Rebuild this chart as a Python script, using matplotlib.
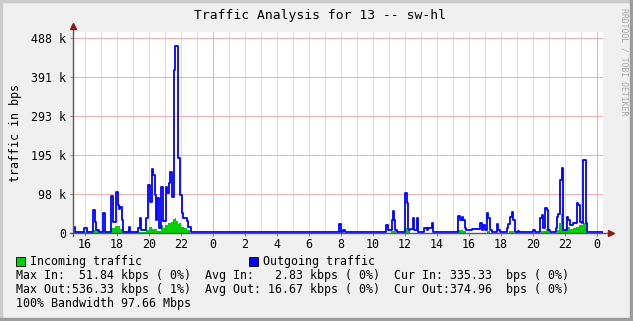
import matplotlib
matplotlib.use("Agg")
import matplotlib.pyplot as plt
from matplotlib.patches import Rectangle

# hours counted from midnight of the first day (24 = 0:00 next day, 48 = 0:00 day after)
out_t = [15.25, 15.36, 15.94, 16.1, 16.52, 16.6, 16.69, 16.875, 17.14, 17.225,
         17.64, 17.725, 17.94, 18.04, 18.125, 18.2, 18.31, 18.4, 18.75, 18.8,
         19.33, 19.44, 19.52, 19.81, 19.96, 20.06, 20.19, 20.27, 20.375, 20.44,
         20.52, 20.6, 20.725, 20.85, 21.06, 21.14, 21.23, 21.31, 21.44, 21.54,
         21.58, 21.625, 21.83, 21.94, 22.04, 22.14, 22.35, 22.45, 22.625,
         31.875, 31.98, 32.14, 32.25,
         34.84, 34.94, 35.17, 35.22, 35.31, 35.39, 35.48,
         36.0, 36.1, 36.2, 36.31, 36.48, 36.58, 36.73, 36.83, 37.19, 37.35,
         37.45, 37.67, 37.77,
         39.29, 39.44, 39.54, 39.64, 39.77, 39.81, 40.17, 40.69, 40.79, 40.89,
         41.0, 41.1, 41.2, 41.31, 41.42, 41.73, 41.83, 41.94,
         42.35, 42.46, 42.56, 42.67, 42.77, 42.875, 43.08, 43.15, 44.02, 44.1,
         44.44, 44.54, 44.64, 44.75, 44.85, 44.96, 45.06,
         45.44, 45.52, 45.58, 45.69, 45.79, 45.89, 46.1, 46.21, 46.31, 46.52,
         46.73, 46.83, 46.94, 47.04, 47.14, 47.31, 47.375]
out_v = [14, 3, 12, 2, 57, 28, 7, 3, 51, 3,
         93, 28, 103, 70, 60, 65, 32, 3, 14, 3,
         12, 38, 8, 38, 120, 78, 160, 145, 95, 32,
         87, 12, 116, 30, 116, 100, 125, 153, 91, 183,
         408, 469, 187, 95, 50, 38, 30, 16, 1.5,
         22, 2, 7, 1.5,
         20, 7, 32, 56, 32, 7, 1.5,
         99, 74, 7, 10, 38, 7, 37, 2, 13, 7,
         12, 24, 1.5,
         43, 32, 41, 32, 13, 7, 10, 24, 7, 20,
         7, 51, 38, 7, 1.5, 22, 7, 1.5,
         13, 22, 41, 53, 32, 1.5, 5, 1.5, 7, 1.5,
         37, 45, 13, 62, 57, 7, 1.5,
         13, 41, 47, 133, 162, 7, 41, 32, 20, 24,
         74, 70, 28, 24, 183, 24, 1.5]

in_t = [15.25, 16.45, 16.9, 17.6, 17.9, 18.2, 18.45, 19.8, 20.0, 20.2,
        20.5, 20.75, 20.9, 21.0, 21.2, 21.35, 21.5, 21.6, 21.7, 21.8,
        21.9, 22.0, 22.2, 22.4, 22.55,
        31.85, 32.0, 35.15, 35.45, 36.0, 36.15, 36.3,
        39.25, 39.6, 39.8, 41.1, 41.3, 42.5, 42.8,
        44.5, 44.8, 45.0, 45.5, 45.65, 45.75, 45.85, 45.95, 46.1, 46.3,
        46.5, 46.7, 46.9, 47.1, 47.3, 47.4]
in_v = [2, 7, 2, 12, 18, 10, 2, 7, 14, 10,
        5, 20, 12, 20, 25, 28, 35, 37, 30, 22,
        25, 15, 12, 8, 1.2,
        4, 1.2, 4, 1.2, 12, 5, 1.2,
        8, 5, 1.2, 5, 1.2, 6, 1.2,
        6, 10, 1.2, 8, 25, 47, 30, 10, 15, 10,
        12, 15, 20, 25, 10, 1.2]

t_end = 48.375
y_ticks = [0, 97.66, 195.31, 292.97, 390.63, 488.28]
y_labels = ["0", "98 k", "195 k", "293 k", "391 k", "488 k"]
x_ticks = list(range(16, 49, 2))
x_labels = [str(h % 24) for h in x_ticks]

title = "Traffic Analysis for 13 -- sw-hl"
legend_lines = [
    "Max In:  51.84 kbps ( 0%)  Avg In:   2.83 kbps ( 0%)  Cur In: 335.33  bps ( 0%)",
    "Max Out:536.33 kbps ( 1%)  Avg Out: 16.67 kbps ( 0%)  Cur Out:374.96  bps ( 0%)",
    "100% Bandwidth 97.66 Mbps",
]

W, H = 633, 321
bg = "#f0f0f0"
mono = "DejaVu Sans Mono"
fs = 8.4

fig = plt.figure(figsize=(W / 100, H / 100), dpi=100, facecolor=bg)

# 3d-ish frame like rrdtool
fig.patches.append(Rectangle((0, 1 - 2 / H), 1, 2 / H, transform=fig.transFigure, color="#cbcbcb"))
fig.patches.append(Rectangle((0, 0), 2 / W, 1, transform=fig.transFigure, color="#cbcbcb"))
fig.patches.append(Rectangle((0, 0), 1, 3 / H, transform=fig.transFigure, color="#9c9c9c"))
fig.patches.append(Rectangle((1 - 3 / W, 0), 3 / W, 1, transform=fig.transFigure, color="#9c9c9c"))

x0, x1, ytop, ybot = 73, 603, 32, 233
ax = fig.add_axes([x0 / W, 1 - ybot / H, (x1 - x0) / W, (ybot - ytop) / H])
ax.set_facecolor("white")
ax.set_xlim(15.25, t_end)
ax.set_ylim(0, (ybot - ytop) * 97.66 / 39)
for s in ax.spines.values():
    s.set_visible(False)

# grid
for h in range(16, 49):
    if h % 24 == 0:
        ax.axvline(h, color="#f4b0b0", lw=0.75, zorder=1)
    else:
        ax.axvline(h, color="#dedede", lw=0.75, zorder=0.5)
for yv in y_ticks[1:]:
    ax.axhline(yv, color="#f4b0b0", lw=0.75, zorder=1)

# data
ax.fill_between(in_t + [t_end], in_v + [in_v[-1]], step="post", color="#00cf00", lw=0, zorder=2)
ax.step(out_t + [t_end], out_v + [out_v[-1]], where="post", color="#0000ff", lw=1.3, zorder=3)

# axes with arrows
ax.plot([-0.006, 1.012], [0, 0], transform=ax.transAxes, color="#5a5a5a", lw=1, clip_on=False, zorder=4)
ax.plot([0, 0], [-0.015, 1.02], transform=ax.transAxes, color="#5a5a5a", lw=1, clip_on=False, zorder=4)
ax.plot([1.016], [0], marker=">", ms=4, color="#8b1a1a", transform=ax.transAxes, clip_on=False, zorder=5)
ax.plot([0], [1.03], marker="^", ms=4, color="#8b1a1a", transform=ax.transAxes, clip_on=False, zorder=5)

ax.set_xticks(x_ticks)
ax.set_xticklabels(x_labels, fontfamily=mono, fontsize=fs)
ax.set_yticks(y_ticks)
ax.set_yticklabels(y_labels, fontfamily=mono, fontsize=fs)
ax.tick_params(axis="both", length=2, width=0.7, color="#808080", pad=3)
ax.tick_params(axis="x", pad=1.5)

fig.text(W / 2 / W + 0.005, 1 - 16 / H, title, family=mono, fontsize=9.4, ha="center", va="center")
fig.text(16 / W, 1 - 133 / H, "traffic in bps", family=mono, fontsize=fs, rotation=90,
         ha="center", va="center")
fig.text(624 / W, 1 - 62 / H, "RRDTOOL / TOBI OETIKER", family=mono, fontsize=5.9, rotation=270,
         ha="center", va="center", color="#a8a8a8")

# legend boxes
fig.patches.append(Rectangle((16 / W, 1 - 266 / H), 9 / W, 9 / H, transform=fig.transFigure,
                             facecolor="#00cf00", edgecolor="black", lw=0.6))
fig.text(30 / W, 1 - 261 / H, "Incoming traffic", family=mono, fontsize=fs, va="center")
fig.patches.append(Rectangle((249 / W, 1 - 266 / H), 9 / W, 9 / H, transform=fig.transFigure,
                             facecolor="#0000ff", edgecolor="black", lw=0.6))
fig.text(263 / W, 1 - 261 / H, "Outgoing traffic", family=mono, fontsize=fs, va="center")

for i, line in enumerate(legend_lines):
    fig.text(16.5 / W, 1 - (275 + 14 * i) / H, line, family=mono, fontsize=fs, va="center")

fig.savefig("out.png", dpi=100, facecolor=bg)
